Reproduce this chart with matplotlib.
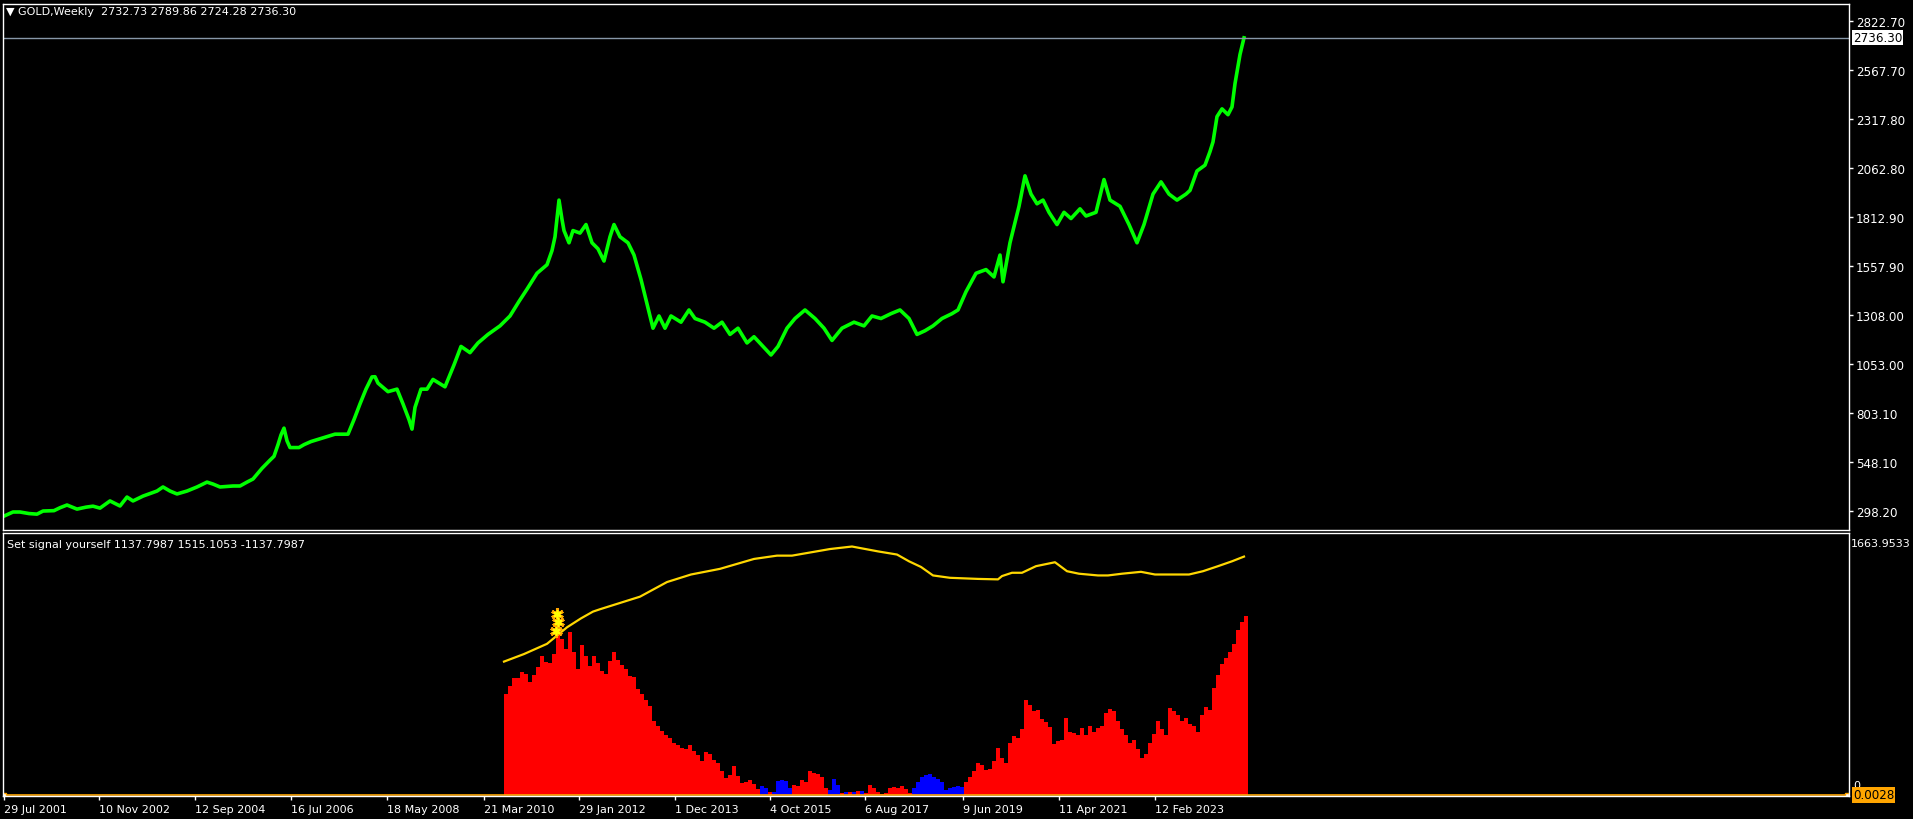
import matplotlib
matplotlib.use("Agg")
import matplotlib.pyplot as plt

W, H = 1913, 820

# weekly gold, bar index -> approx close
price_idx = [0, 9, 16, 25, 33, 39, 50, 56, 63, 73, 82, 89, 96, 106, 116, 123, 129, 139, 153, 159,
             166, 173, 183, 193, 203, 209, 216, 229, 236, 243, 249, 258, 266, 270, 274, 277, 280, 283, 286, 295,
             300, 307, 319, 331, 344, 350, 356, 362, 368, 371, 374, 384, 393, 399, 405, 408, 411, 417, 423, 429,
             441, 450, 457, 466, 474, 484, 496, 506, 515, 523, 533, 543, 548, 551, 555, 558, 560, 565, 569, 576,
             582, 588, 594, 600, 606, 610, 616, 624, 630, 637, 643, 649, 655, 661, 667, 677, 685, 691, 701, 710,
             718, 726, 734, 743, 750, 759, 767, 774, 783, 791, 801, 811, 820, 828, 838, 850, 860, 868, 877, 887,
             896, 905, 913, 921, 929, 938, 948, 954, 962, 972, 982, 990, 996, 999, 1006, 1015, 1021, 1027, 1033, 1039,
             1045, 1053, 1060, 1067, 1076, 1082, 1092, 1100, 1106, 1116, 1125, 1133, 1140, 1149, 1157, 1165, 1173, 1182, 1186, 1193,
             1201, 1206, 1209, 1213, 1218, 1224, 1228, 1231, 1236, 1240]
price_val = [272, 293, 293, 285, 282, 298, 300, 315, 329, 308, 318, 323, 313, 350, 324, 370, 350, 375, 401, 422,
             401, 386, 401, 422, 447, 437, 422, 427, 427, 447, 463, 518, 560, 580, 640, 690, 725, 660, 625, 625,
             640, 656, 675, 694, 694, 769, 850, 926, 989, 990, 957, 913, 926, 850, 769, 720, 832, 926, 926, 976,
             938, 1051, 1146, 1114, 1164, 1208, 1252, 1303, 1378, 1441, 1523, 1567, 1640, 1711, 1900, 1800, 1743, 1680, 1743, 1730,
             1774, 1680, 1649, 1586, 1711, 1774, 1711, 1680, 1617, 1491, 1365, 1240, 1303, 1240, 1303, 1271, 1334, 1290, 1271, 1240,
             1271, 1208, 1240, 1164, 1196, 1146, 1102, 1146, 1240, 1290, 1334, 1290, 1240, 1177, 1240, 1271, 1252, 1303, 1290, 1315,
             1334, 1290, 1208, 1227, 1252, 1290, 1315, 1334, 1428, 1523, 1542, 1504, 1617, 1479, 1680, 1868, 2025, 1931, 1881, 1900,
             1837, 1774, 1837, 1805, 1855, 1818, 1837, 2006, 1900, 1868, 1774, 1680, 1774, 1931, 1994, 1931, 1900, 1931, 1950, 2050,
             2080, 2150, 2200, 2330, 2370, 2340, 2380, 2500, 2650, 2736]

# histogram, every 4 bars from bar 500; negative values are drawn blue
hist_start = 500
hist_step = 4
hist_val = [644, 690, 745, 740, 783, 770, 715, 760, 810, 884, 846, 840, 896, 1040, 991, 930, 1035, 909, 800, 950,
            880, 821, 884, 840, 790, 765, 852, 909, 860, 825, 800, 757, 751, 670, 640, 600, 562, 470, 440, 408,
            380, 360, 331, 316, 300, 293, 316, 280, 254, 215, 270, 260, 220, 200, 150, 105, 126, 180, 120, 75,
            80, 95, 70, 35, -55, -40, 15, -20, -85, -95, -90, -45, 60, 55, 95, 80, 150, 140, 130, 110,
            45, -30, -100, -60, 10, -15, 20, -20, 25, -25, 10, 60, 40, 15, 5, 10, 40, 50, 45, 55,
            35, 10, -40, -80, -110, -125, -130, -115, -100, -80, -30, -40, -50, -55, -50, 80, 110, 150, 200, 190,
            160, 165, 213, 300, 234, 200, 330, 372, 360, 420, 600, 570, 530, 540, 480, 460, 430, 320, 345, 350,
            490, 400, 390, 380, 423, 380, 440, 400, 423, 440, 520, 545, 530, 470, 420, 380, 330, 350, 290, 234,
            260, 330, 385, 470, 420, 380, 549, 530, 505, 470, 490, 450, 440, 400, 505, 560, 540, 680, 760, 830,
            870, 910, 960, 1050, 1100, 1138]

# signal line
sig_idx = [500, 520, 543, 563, 577, 589, 596, 636, 663, 687, 716, 750, 773, 788, 807, 826, 848, 874, 893, 905,
           917, 929, 946, 974, 994, 998, 1008, 1018, 1032, 1051, 1063, 1075, 1094, 1104, 1118, 1137, 1151, 1185, 1199, 1214,
           1228, 1240]
sig_val = [847, 895, 960, 1065, 1122, 1165, 1180, 1260, 1353, 1401, 1437, 1500, 1521, 1521, 1542, 1563, 1579, 1548, 1528, 1485,
           1449, 1395, 1380, 1373, 1370, 1391, 1412, 1412, 1454, 1479, 1422, 1406, 1395, 1395, 1406, 1418, 1401, 1401, 1422, 1454,
           1485, 1515]

mark_idx = [553, 554, 552]
mark_val = [1150, 1100, 1040]

price_ticks = [2822.70, 2567.70, 2317.80, 2062.80, 1812.90, 1557.90, 1308.00, 1053.00, 803.10, 548.10, 298.20]
date_idx = [0, 95, 191, 287, 383, 480, 575, 671, 766, 861, 959, 1055, 1151]
date_lbl = ["29 Jul 2001", "10 Nov 2002", "12 Sep 2004", "16 Jul 2006", "18 May 2008", "21 Mar 2010",
            "29 Jan 2012", "1 Dec 2013", "4 Oct 2015", "6 Aug 2017", "9 Jun 2019", "11 Apr 2021", "12 Feb 2023"]
last_price = 2736.30

plt.rcParams['font.family'] = ['DejaVu Sans']
fig = plt.figure(figsize=(W / 100, H / 100), dpi=100, facecolor='black')

def px_axes(x0, y0, x1, y1):
    return fig.add_axes([x0 / W, 1 - y1 / H, (x1 - x0) / W, (y1 - y0) / H], facecolor='black')

ax1 = px_axes(3, 5, 1849, 531)
ax2 = px_axes(3, 534, 1849, 797)

for ax in (ax1, ax2):
    ax.set_xlim(-1, 1845)
    for s in ax.spines.values():
        s.set_color('white')
        s.set_linewidth(1)

# price panel
ax1.plot(price_idx, price_val, color='#00FF00', lw=2.6)
ax1.axhline(last_price, color='#8797A8', lw=1)
ax1.set_ylim(200.3, 2910.3)
ax1.yaxis.tick_right()
ax1.set_yticks(price_ticks)
ax1.set_yticklabels(["%.2f" % v for v in price_ticks])
ax1.tick_params(axis='y', colors='white', length=3, width=1, labelsize=8.6, pad=2)
ax1.set_xticks([])

fig.text(1853 / W, 1 - 38.8 / H, "%.2f" % last_price, color='black', fontsize=8.6, va='center', ha='left',
         bbox=dict(facecolor='white', edgecolor='none', pad=0.8))
fig.text(6 / W, 1 - 12 / H, "\u25bc GOLD,Weekly  2732.73 2789.86 2724.28 2736.30", color='white',
         fontsize=8, va='center', ha='left')

# indicator panel
hx = [hist_start + k * hist_step for k in range(len(hist_val))]
hcol = ['#FF0000' if v >= 0 else '#0000FF' for v in hist_val]
ax2.bar(hx, [abs(v) for v in hist_val], width=hist_step, align='edge', color=hcol, linewidth=0)
ax2.plot(sig_idx, sig_val, color='#FFD700', lw=1.6)
ax2.axhline(0, color='#FFA500', lw=1.2)
ax2.plot([0, 1843], [0, 0], ls='none', marker='s', ms=3.5, mfc='white', mec='#FFA500')
ax2.plot(mark_idx, mark_val, ls='none', marker=(6, 2, 0), ms=9, mew=2.2, color='#FFA500')
ax2.plot(mark_idx, mark_val, ls='none', marker=(6, 2, 0), ms=6, mew=1.2, color='#FFFF00')
ax2.set_ylim(-8, 1665)
ax2.set_yticks([])
ax2.set_xticks(date_idx)
ax2.set_xticklabels(date_lbl, ha='left')
ax2.tick_params(axis='x', colors='white', length=3, width=1, labelsize=8, pad=3)

fig.text(7 / W, 1 - 545 / H, "Set signal yourself 1137.7987 1515.1053 -1137.7987", color='white',
         fontsize=8, va='center', ha='left')
fig.text(1851 / W, 1 - 544 / H, "1663.9533", color='white', fontsize=8, va='center', ha='left')
fig.text(1853 / W, 1 - 786 / H, "0", color='white', fontsize=8, va='center', ha='left')
fig.text(1853 / W, 1 - 796 / H, "0.0028", color='black', fontsize=8.6, va='center', ha='left',
         bbox=dict(facecolor='#FFA500', edgecolor='none', pad=0.8))

fig.savefig("out.png", dpi=100, facecolor='black')
